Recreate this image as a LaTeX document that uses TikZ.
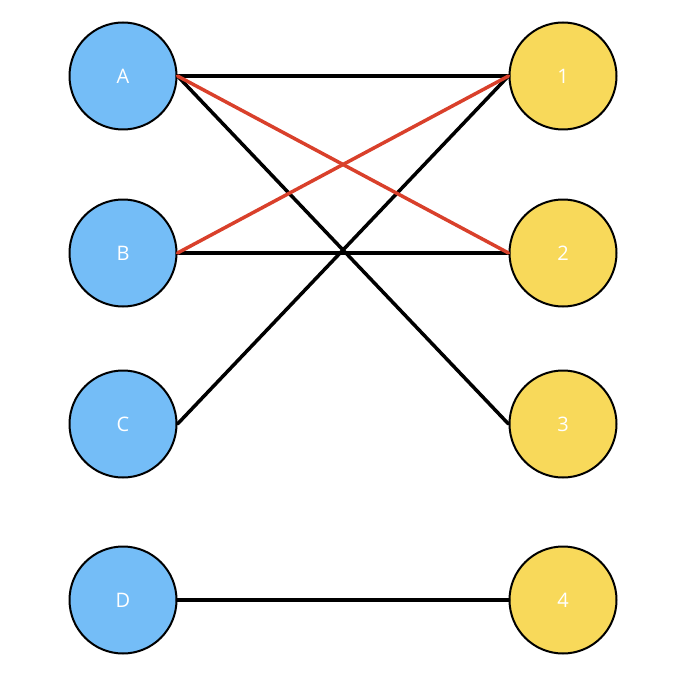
\documentclass[tikz,border=0pt]{standalone}
\usepackage{fontspec}
\setmainfont{Open Sans}
\usetikzlibrary{positioning}
\definecolor{lblue}{HTML}{74BDF7}
\definecolor{lyellow}{HTML}{F8D95A}
\definecolor{ered}{HTML}{D9402B}
\begin{document}
\begin{tikzpicture}[x=1pt,y=-1pt, line cap=round, line join=round,
    vert/.style={circle, draw=black, line width=2pt, minimum size=107pt, inner sep=0pt, text=white, font=\fontsize{20}{24}\selectfont},
    left/.style={vert, fill=lblue},
    right/.style={vert, fill=lyellow},
    edge/.style={line width=3.5pt, black},
    redge/.style={line width=3.5pt, ered}]
    \useasboundingbox (0,0) rectangle (688,690);
    % left vertices
    \node[left]  (A) at (123,76)  {A};
    \node[left]  (B) at (123,253) {B};
    \node[left]  (C) at (123,424) {C};
    \node[left]  (D) at (123,600) {D};
    % right vertices
    \node[right] (n1) at (563,76)  {1};
    \node[right] (n2) at (563,253) {2};
    \node[right] (n3) at (563,424) {3};
    \node[right] (n4) at (563,600) {4};
    % edges
    \draw[edge]  (A.east) -- (n1.west);
    \draw[edge]  (A.east) -- (n3.west);
    \draw[edge]  (B.east) -- (n2.west);
    \draw[edge]  (C.east) -- (n1.west);
    \draw[edge]  (D.east) -- (n4.west);
    \draw[redge] (A.east) -- (n2.west);
    \draw[redge] (B.east) -- (n1.west);
\end{tikzpicture}
\end{document}
